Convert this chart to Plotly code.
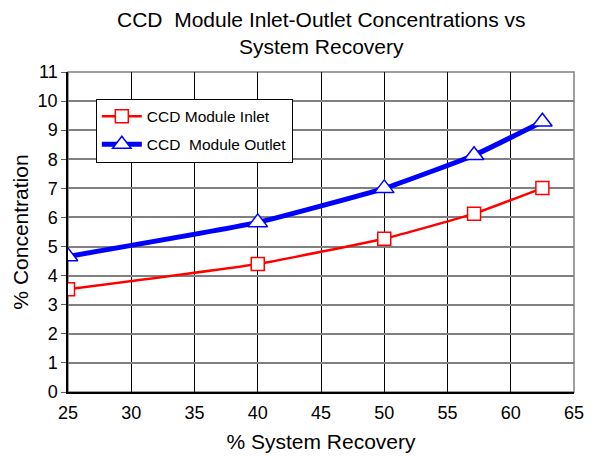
import plotly.graph_objects as go

recovery = [25, 40, 50, 57.1, 62.5]
inlet = [3.53, 4.40, 5.27, 6.13, 7.01]
outlet = [4.66, 5.83, 7.0, 8.14, 9.29]
x_ticks = [25, 30, 35, 40, 45, 50, 55, 60, 65]
y_ticks = list(range(0, 12))

NB = "\u00a0"
FONT = "Liberation Sans, Arial, sans-serif"
fig = go.Figure()
fig.add_trace(go.Scatter(
    x=recovery, y=inlet, mode="lines+markers", name="CCD Module Inlet", legendgroup="a",
    line=dict(color="#FF0000", width=2.5, shape="spline", smoothing=0.4),
    marker=dict(symbol="square", size=13, color="white", line=dict(color="#FF0000", width=1.5)),
))
fig.add_trace(go.Scatter(
    x=recovery, y=outlet, mode="lines+markers", name="CCD" + NB + NB + "Module Outlet", legendgroup="b",
    line=dict(color="#0000FF", width=5, shape="spline", smoothing=0.4),
    marker=dict(symbol="triangle-up", size=17, color="white", line=dict(color="#0000FF", width=1.5)),
))

fig.update_layout(
    width=594, height=456,
    margin=dict(l=68, r=20, t=72, b=64),
    paper_bgcolor="white", plot_bgcolor="white",
    font=dict(family=FONT, color="black"),
    xaxis=dict(
        range=[25, 65], tickvals=x_ticks, showgrid=True, gridcolor="black", gridwidth=1,
        showline=True, linecolor="black", linewidth=1.5, ticks="", ticklabelstandoff=4,
        tickfont=dict(size=18), zeroline=False, automargin=False,
        title=dict(text="% System Recovery", font=dict(size=21), standoff=12),
    ),
    yaxis=dict(
        range=[0, 11], tickvals=y_ticks, showgrid=True, gridcolor="#808080", gridwidth=1.5,
        showline=True, linecolor="black", linewidth=1.5, ticks="outside", ticklen=5,
        tickcolor="#606060", tickfont=dict(size=18), zeroline=False, automargin=False,
        title=dict(text="% Concentration", font=dict(size=21), standoff=3),
    ),
    legend=dict(
        x=0.055, y=0.917, xanchor="left", yanchor="top",
        bgcolor="white", bordercolor="black", borderwidth=1,
        font=dict(size=15.5), tracegroupgap=5, itemwidth=40,
    ),
    showlegend=True,
)
fig.add_annotation(
    text="CCD" + NB + NB + "Module Inlet-Outlet Concentrations vs<br>System Recovery",
    xref="paper", yref="paper", x=0.5, y=1.205, xanchor="center", yanchor="top",
    showarrow=False, font=dict(size=21, color="black", family=FONT),
)
fig.add_shape(type="rect", xref="paper", yref="paper", x0=0, y0=0, x1=1, y1=1,
              line=dict(color="#808080", width=1.5), layer="below")

fig.write_html("out.html")
